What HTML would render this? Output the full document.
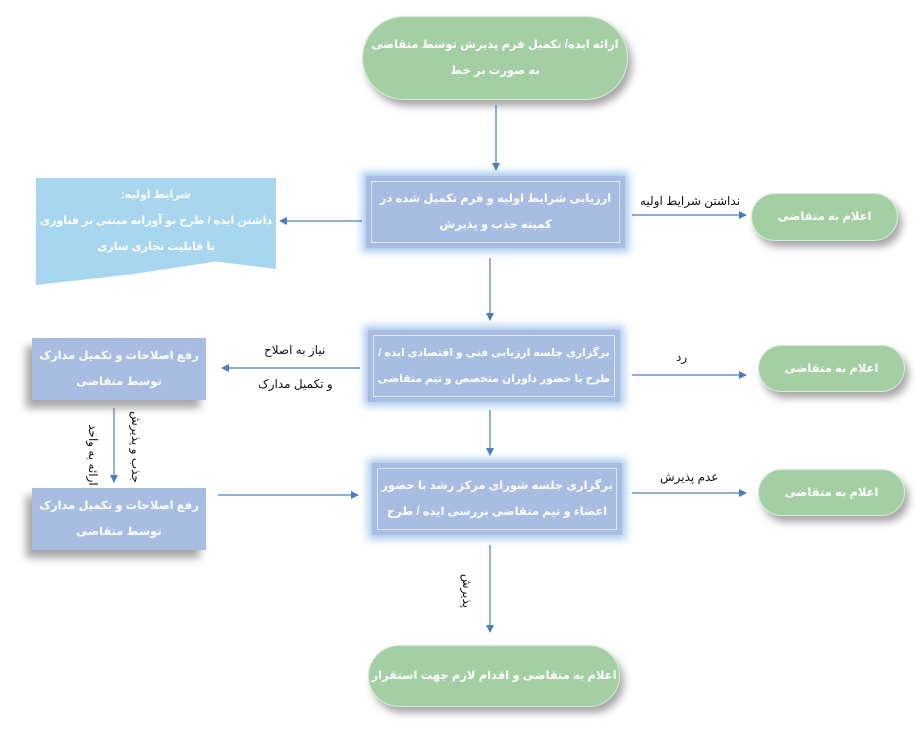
<!DOCTYPE html>
<html><head><meta charset="utf-8"><style>
body{margin:0;width:918px;height:734px;background:#fff;position:relative;overflow:hidden;font-family:"Liberation Sans","DejaVu Sans",sans-serif;}
.n{position:absolute;display:flex;align-items:center;justify-content:center;text-align:center;color:#fff;font-weight:bold;font-size:11.5px;line-height:26px;direction:rtl;box-sizing:border-box;white-space:nowrap}
.pill{background:#a4cfa4;border-radius:45px;box-shadow:4px 6px 8px rgba(0,0,0,.35);border:1px solid #d7ecd7}
.box{background:#a9bde3;box-shadow:0 0 8px 4px #a9c8ee}
.box::before{content:"";position:absolute;left:5px;right:5px;top:5px;bottom:5px;border:1px solid #dfe8f7}
.sbox{background:#a9bde3;box-shadow:-6px 8px 8px rgba(0,0,0,.35)}
.t{position:absolute;font-size:12px;color:#111;direction:rtl;white-space:nowrap}
svg{position:absolute;left:0;top:0}
</style></head><body>
<div class="n pill" style="left:362px;top:16px;width:266px;height:84px">ارائه ایده/ تکمیل فرم پذیرش توسط متقاضی<br>به صورت بر خط</div>
<div class="n box" style="left:366px;top:176px;width:259px;height:72px">ارزیابی شرایط اولیه و فرم تکمیل شده در<br>کمیته جذب و پذیرش</div>
<div class="n" style="left:36px;top:178px;width:240px;height:107px;background:#a8d6ee;box-shadow:-6px 8px 10px rgba(0,0,0,.3);clip-path:polygon(0 0,100% 0,100% 85%,75% 78%,40% 90%,0 100%);flex-direction:column;justify-content:flex-start;padding-top:4px;line-height:26px;font-size:11px">شرایط اولیه:<br>داشتن ایده / طرح نو آورانه مبتنی بر فناوری<br>با قابلیت تجاری سازی</div>
<div class="n pill" style="left:751px;top:193px;width:147px;height:48px">اعلام به متقاضی</div>
<div class="n box" style="left:368px;top:330px;width:252px;height:72px;font-size:10.8px">برگزاری جلسه ارزیابی فنی و اقتصادی ایده /<br>طرح با حضور داوران متخصص و تیم متقاضی</div>
<div class="n sbox" style="left:32px;top:338px;width:174px;height:62px">رفع اصلاحات و تکمیل مدارک<br>توسط متقاضی</div>
<div class="n pill" style="left:758px;top:345px;width:147px;height:47px">اعلام به متقاضی</div>
<div class="n box" style="left:372px;top:463px;width:250px;height:72px">برگزاری جلسه شورای مرکز رشد با حضور<br>اعضاء و تیم متقاضی بررسی ایده / طرح</div>
<div class="n sbox" style="left:32px;top:488px;width:174px;height:62px">رفع اصلاحات و تکمیل مدارک<br>توسط متقاضی</div>
<div class="n pill" style="left:758px;top:469px;width:147px;height:47px">اعلام به متقاضی</div>
<div class="n pill" style="left:368px;top:645px;width:252px;height:62px">اعلام به متقاضی و اقدام لازم جهت استقرار</div>
<svg width="918" height="734"><defs><marker id="a" markerWidth="8" markerHeight="8" refX="7" refY="4" orient="auto" markerUnits="userSpaceOnUse"><path d="M0,0L8,4L0,8z" fill="#4a7ebb"/></marker></defs>
<g stroke="#4a7ebb" stroke-width="1.2" fill="none" marker-end="url(#a)">
<line x1="496" y1="105" x2="496" y2="170"/>
<line x1="362" y1="221" x2="280" y2="221"/>
<line x1="632" y1="215" x2="746" y2="215"/>
<line x1="490" y1="258" x2="490" y2="320"/>
<line x1="360" y1="368" x2="222" y2="368"/>
<line x1="632" y1="375" x2="746" y2="375"/>
<line x1="490" y1="410" x2="490" y2="455"/>
<line x1="114" y1="408" x2="114" y2="482"/>
<line x1="218" y1="495" x2="358" y2="495"/>
<line x1="632" y1="493" x2="746" y2="493"/>
<line x1="490" y1="545" x2="490" y2="632"/>
</g></svg>
<div class="t" style="left:640px;top:194px">نداشتن شرایط اولیه</div>
<div class="t" style="left:264px;top:343px">نیاز به اصلاح</div>
<div class="t" style="left:258px;top:377px">و تکمیل مدارک</div>
<div class="t" style="left:676px;top:350px">رد</div>
<div class="t" style="left:660px;top:470px">عدم پذیرش</div>
<div class="t" style="left:62px;top:448px;transform:rotate(90deg)">ارائه به واحد</div>
<div class="t" style="left:100px;top:440px;transform:rotate(90deg)">جذب و پذیرش</div>
<div class="t" style="left:450px;top:584px;transform:rotate(90deg)">پذیرش</div>
</body></html>
